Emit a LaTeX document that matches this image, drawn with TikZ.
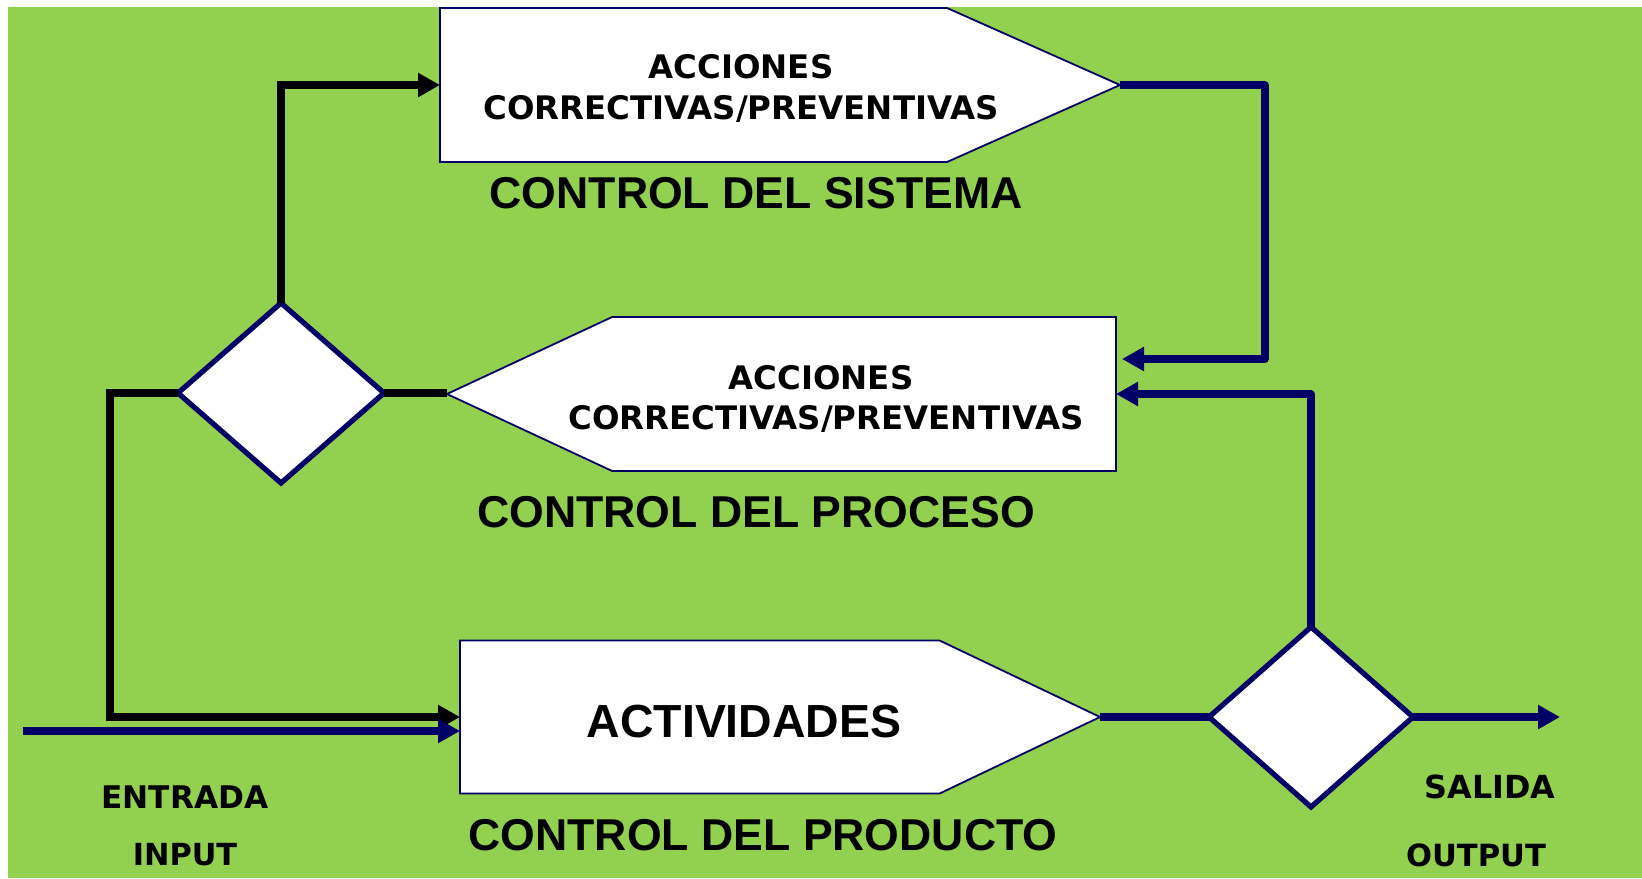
\documentclass[tikz,border=0pt]{standalone}
\usepackage{fontspec}
\setmainfont{Liberation Sans}
\newfontfamily\dvs{DejaVu Sans}
\usetikzlibrary{shapes.geometric,shapes.symbols,arrows.meta}
\definecolor{bggreen}{RGB}{146,208,80}
\definecolor{navy}{RGB}{0,0,102}
\tikzset{
  sigbox/.style={shape=signal, draw=navy, fill=white, line width=0.9pt, inner sep=0pt, outer sep=0pt},
  decision/.style={shape=diamond, draw=navy, fill=white, line width=2.6pt, inner sep=0pt, outer sep=0pt, minimum width=103pt, minimum height=90pt},
  blk/.style={line width=4pt, draw=black},
  blu/.style={line width=3.6pt, draw=navy, line join=round},
  tipk/.style={-{Triangle[length=11pt,width=11.5pt]}},
  boxtxt/.style={font=\dvs\bfseries\fontsize{16.2}{19}\selectfont, anchor=base, inner sep=0pt},
  bigtxt/.style={font=\bfseries\fontsize{22.3}{26}\selectfont, anchor=base, inner sep=0pt},
  lbl/.style={anchor=base, inner sep=0pt},
}
\begin{document}
\begin{tikzpicture}[x=0.5pt,y=-0.5pt]
\useasboundingbox (0,0) rectangle (1642,878);
\fill[bggreen] (8,7) rectangle (1642,878);

% boxes
\node[sigbox, signal to=east, signal from=nowhere, signal pointer angle=48,
      minimum width=340pt, minimum height=77pt, anchor=west] (sys) at (440,85) {};
\node[sigbox, signal to=west, signal from=nowhere, signal pointer angle=50,
      minimum width=334.5pt, minimum height=77pt, anchor=east] (proc) at (1116,394) {};
\node[sigbox, signal to=east, signal from=nowhere, signal pointer angle=51,
      minimum width=320pt, minimum height=76.5pt, anchor=west] (act) at (460,717) {};

% decisions
\node[decision] (ldia) at (281,393) {};
\node[decision, minimum width=102pt] (rdia) at (1311,717) {};

% texts
\node[boxtxt] (t1) at (741,78) {ACCIONES};
\node[boxtxt] (t2) at (741,119) {CORRECTIVAS/PREVENTIVAS};
\node[bigtxt] (t3) at (756,208) {CONTROL DEL SISTEMA};
\node[boxtxt] (t4) at (821,389) {ACCIONES};
\node[boxtxt] (t5) at (826,429) {CORRECTIVAS/PREVENTIVAS};
\node[bigtxt] (t6) at (756,527) {CONTROL DEL PROCESO};
\node[bigtxt, font=\bfseries\fontsize{23.2}{27}\selectfont] (t7) at (744,737) {ACTIVIDADES};
\node[bigtxt] (t8) at (763,850) {CONTROL DEL PRODUCTO};
\node[lbl, font=\dvs\bfseries\fontsize{15.6}{18}\selectfont] (ent) at (185,808) {ENTRADA};
\node[lbl, font=\dvs\bfseries\fontsize{15.2}{18}\selectfont] (inl) at (185,865) {INPUT};
\node[lbl, font=\dvs\bfseries\fontsize{15.9}{18}\selectfont] (sal) at (1490,798) {SALIDA};
\node[lbl, font=\dvs\bfseries\fontsize{15.3}{18}\selectfont] (outl) at (1476,866) {OUTPUT};

% connectors
\coordinate (inp) at (23,731);
\coordinate (outp) at (1560,717);
\draw[blk, tipk] (ldia.north) |- (sys.west);
\draw[blk, tipk] (ldia.west) -- ++(-68,0) |- (act.west);
\draw[blk] (ldia.east) -- (ldia.east -| proc.west);
\draw[blu, tipk] (inp) -- (inp -| act.west);
\draw[blu, tipk, shorten >=3pt] (sys.east) -- ++(145,0) |- ([yshift=17.5pt]proc.east);
\draw[blu, tipk] (rdia.north) |- (proc.east);
\draw[blu] (act.east) -- (rdia.west);
\draw[blu, tipk] (rdia.east) -- (outp);
\end{tikzpicture}
\end{document}
